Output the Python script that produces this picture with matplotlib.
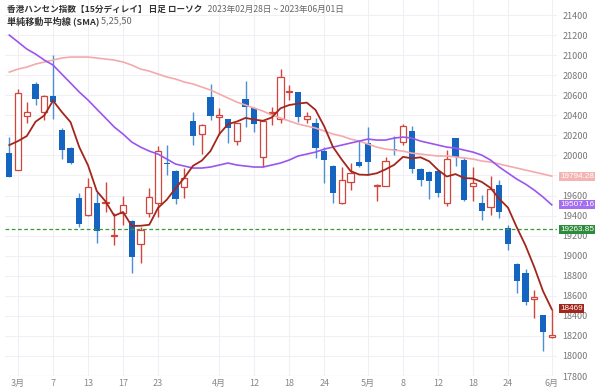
import numpy as np
import pandas as pd
import matplotlib.pyplot as plt

plt.rcParams['font.family'] = ['Noto Sans CJK JP', 'DejaVu Sans']

# daily candles, 2023-02-28 .. 2023-06-01
dates = ['02-28', '03-01', '03-02', '03-03', '03-06', '03-07', '03-08', '03-09', '03-10',
         '03-13', '03-14', '03-15', '03-16', '03-17', '03-20', '03-21', '03-22', '03-23',
         '03-24', '03-27', '03-28', '03-29', '03-30', '03-31', '04-03', '04-04', '04-06',
         '04-11', '04-12', '04-13', '04-14', '04-17', '04-18', '04-19', '04-20', '04-21',
         '04-24', '04-25', '04-26', '04-27', '04-28', '05-02', '05-03', '05-04', '05-05',
         '05-08', '05-09', '05-10', '05-11', '05-12', '05-15', '05-16', '05-17', '05-18',
         '05-19', '05-22', '05-23', '05-24', '05-25', '05-29', '05-30', '05-31', '06-01']
opens = [20020, 19854, 20396, 20709, 20435, 20595, 20253, 20073, 19571,
         19405, 19522, 19525, 19195, 19422, 19345, 19112, 19422, 19522,
         19920, 19847, 19687, 20346, 20213, 20585, 20380, 20360, 20143,
         20559, 20475, 19981, 20420, 20360, 20632, 20629, 20360, 20326,
         20046, 19894, 19522, 19737, 19931, 20120, 19695, 19694, 20060,
         20130, 20246, 19861, 19837, 19847, 19522, 20170, 19954, 19694,
         19522, 19481, 19704, 19272, 18916, 18823, 18570, 18408, 18185]
highs = [20180, 20660, 20535, 20729, 20600, 21001, 20270, 20085, 19627,
         19777, 19637, 19734, 19421, 19595, 19355, 19288, 19671, 20093,
         20103, 19850, 19871, 20435, 20310, 20712, 20469, 20365, 20325,
         20745, 20480, 20353, 20485, 20858, 20702, 20635, 20435, 20370,
         20080, 19900, 19887, 19921, 20153, 20286, 19714, 19987, 20193,
         20310, 20293, 19871, 19840, 19854, 20053, 20175, 19987, 19887,
         19605, 19797, 19754, 19305, 18929, 18863, 18657, 18410, 18464]
lows = [19780, 19854, 20320, 20502, 20353, 20359, 19961, 19910, 19288,
        19400, 19123, 19431, 19106, 19305, 18829, 18923, 19388, 19388,
        19804, 19514, 19571, 20103, 20013, 20353, 20203, 20126, 20103,
        20286, 20236, 19887, 20303, 20320, 20552, 20336, 20320, 19970,
        19721, 19522, 19520, 19654, 19887, 19804, 19548, 19690, 20004,
        20103, 19821, 19691, 19562, 19588, 19495, 19894, 19545, 19548,
        19355, 19405, 19372, 19056, 18624, 18507, 18375, 18050, 18180]
closes = [19787, 20619, 20429, 20562, 20595, 20529, 20053, 19921, 19315,
          19687, 19245, 19540, 19203, 19505, 18989, 19255, 19588, 20046,
          19912, 19561, 19771, 20193, 20303, 20392, 20402, 20270, 20320,
          20485, 20309, 20343, 20435, 20779, 20647, 20379, 20393, 20070,
          19954, 19621, 19754, 19821, 19894, 19937, 19704, 19947, 20050,
          20290, 19864, 19754, 19747, 19621, 19961, 19986, 19555, 19727,
          19449, 19664, 19438, 19116, 18750, 18540, 18590, 18240, 18212]

# first SMA5 points depend on earlier days
sma5_head = [20103, 20143, 20193, 20336]
sma25 = [21200, 21131, 21061, 21011, 20951, 20901, 20811, 20722, 20632, 20552,
         20462, 20373, 20283, 20213, 20133, 20083, 20043, 20013, 19964, 19914,
         19894, 19874, 19874, 19884, 19904, 19924, 19904, 19894, 19884, 19884,
         19904, 19924, 19954, 19994, 20013, 20033, 20063, 20083, 20103, 20123,
         20143, 20163, 20153, 20153, 20173, 20183, 20173, 20143, 20123, 20103,
         20083, 20073, 20053, 20033, 20003, 19954, 19884, 19824, 19764, 19714,
         19654, 19585, 19507]
sma50 = [20831, 20861, 20881, 20911, 20931, 20951, 20971, 20981, 20981, 20981,
         20971, 20961, 20951, 20931, 20901, 20861, 20841, 20811, 20782, 20762,
         20732, 20712, 20682, 20652, 20612, 20572, 20532, 20502, 20472, 20442,
         20402, 20373, 20343, 20313, 20293, 20273, 20243, 20213, 20193, 20163,
         20143, 20113, 20083, 20063, 20053, 20043, 20023, 20013, 20003, 19994,
         19994, 19984, 19974, 19964, 19944, 19934, 19914, 19894, 19874, 19854,
         19834, 19814, 19794]
ref_level = 19263.85
last_labels = [('19794.28', 19794.28, '#f4b4b4'),
               ('19507.16', 19507.16, '#a46ef0'),
               ('19263.85', 19263.85, '#2e8b3a'),
               ('18469', 18469, '#a3261c')]

tick_dates = ['03-01', '03-07', '03-13', '03-17', '03-23', '04-03', '04-12', '04-18',
              '04-24', '05-02', '05-08', '05-12', '05-18', '05-24', '06-01']
tick_text = ['3月', '7', '13', '17', '23', '4月', '12', '18',
             '24', '5月', '8', '12', '18', '24', '6月']

x = np.arange(len(dates))
o = np.array(opens); h = np.array(highs); l = np.array(lows); c = np.array(closes)
sma5 = pd.Series(closes).rolling(5).mean().values
sma5[:4] = sma5_head

fig = plt.figure(figsize=(6, 3.9), dpi=100)
ax = fig.add_axes([5 / 600, 1 - 376 / 390, 552 / 600, 376 / 390])

up = c >= o
blue, blue_w = '#1565c0', '#4b8fd6'
red = '#d2453d'

# wicks
ax.vlines(x[~up], l[~up], h[~up], color=blue_w, lw=1, zorder=2)
ax.vlines(x[up], l[up], h[up], color=red, lw=1, zorder=2)
# bodies
body_lo = np.minimum(o, c)
body_h = np.maximum(np.abs(c - o), 12)
ax.bar(x[~up], body_h[~up], bottom=body_lo[~up], width=0.72, color=blue, zorder=3)
ax.bar(x[up], body_h[up], bottom=body_lo[up], width=0.72, facecolor='white',
       edgecolor=red, lw=0.9, zorder=3)

# moving averages
ax.plot(x, sma50, color='#f4aaaa', lw=1.2, zorder=4)
ax.plot(x, sma25, color='#9b55ee', lw=1.2, zorder=4)
ax.plot(x, sma5, color='#a3261c', lw=1.3, zorder=5)
ax.axhline(ref_level, color='#3a9a3a', lw=0.9, ls=(0, (3, 2)), zorder=4)

for txt, val, col in last_labels:
    ax.text(1.0055, val, txt, transform=ax.get_yaxis_transform(), va='center', ha='left',
            fontsize=5.9, color='white', family='Liberation Sans', zorder=10, clip_on=False,
            bbox=dict(boxstyle='square,pad=0.12', fc=col, ec='none'))

ax.set_xlim(-0.49, 62.6)
ax.set_ylim(17800, 21550)
ax.yaxis.tick_right()
ax.set_yticks(range(17800, 21401, 200))
ax.tick_params(axis='y', length=0, pad=4, labelsize=6.5, labelcolor='#777777')
ax.set_xticks([dates.index(d) for d in tick_dates])
ax.set_xticklabels(tick_text)
ax.tick_params(axis='x', length=0, pad=2, labelsize=6.5, labelcolor='#888888')
ax.grid(True, color='#f1eff5', lw=0.8, zorder=0)
for s in ax.spines.values():
    s.set_visible(False)
ax.axhline(17800, color='#e8e6ee', lw=0.8, zorder=1)

t1 = fig.text(7 / 600, 1 - 9 / 390, '香港ハンセン指数【15分ディレイ】 日足 ローソク', fontsize=6.2,
              weight='bold', color='#333333', va='center', ha='left')
ax.annotate('   2023年02月28日 ~ 2023年06月01日', xy=(1, 0.5), xycoords=t1, va='center',
            ha='left', fontsize=6.2, color='#666666', annotation_clip=False)
t2 = fig.text(7 / 600, 1 - 21 / 390, '単純移動平均線 (SMA)', fontsize=6.6,
              weight='bold', color='#333333', va='center', ha='left')
ax.annotate(' 5,25,50', xy=(1, 0.5), xycoords=t2, va='center', ha='left',
            fontsize=6.6, color='#666666', annotation_clip=False)

fig.savefig('out.png', dpi=100, facecolor='white')
